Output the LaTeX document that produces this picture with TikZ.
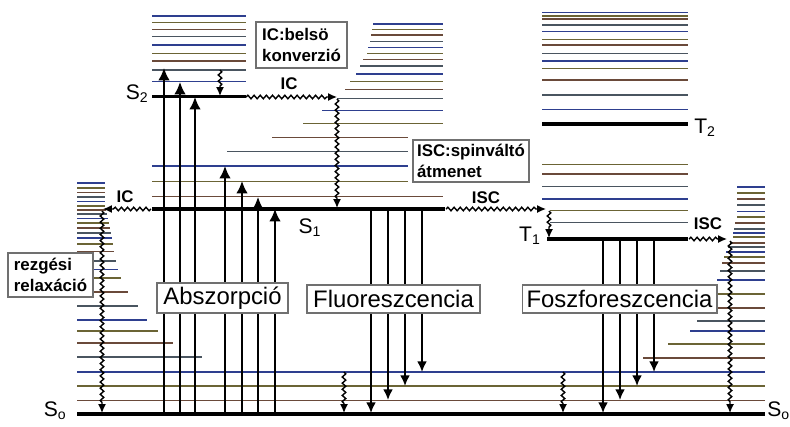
\documentclass[tikz,border=0pt]{standalone}
\usepackage{fontspec}
\setmainfont{Liberation Sans}
\usetikzlibrary{arrows.meta, decorations.pathmorphing}
\definecolor{vib0}{HTML}{4A5560}
\definecolor{vib1}{HTML}{2E3F8F}
\definecolor{vib2}{HTML}{6B6435}
\definecolor{vib3}{HTML}{6A4A3A}
\definecolor{boxGray}{HTML}{707070}

\begin{document}
\begin{tikzpicture}[x=0.02cm, y=-0.02cm,
    vibline/.style={line width=0.7pt},
    elevel/.style={line width=1.9pt, black},
    absarrow/.style={-{Latex[length=7pt, width=6.5pt]}, line width=1pt},
    emarrow/.style={-{Latex[length=6pt, width=5.5pt]}, line width=1pt},
    wavearrow/.style={-{Latex[length=5pt, width=4.5pt]}, line width=0.8pt, decorate,
      decoration={snake, amplitude=1pt, segment length=3.5pt, post length=5pt}},
    notebox/.style={draw=boxGray, fill=white, line width=0.6pt, align=left, inner sep=1.5pt,
      font=\fontsize{9.6}{12}\selectfont\bfseries},
    procbox/.style={draw=boxGray, fill=white, line width=0.6pt, inner sep=1pt,
      font=\fontsize{13.6}{15}\selectfont},
    steptag/.style={font=\fontsize{9.6}{11}\selectfont\bfseries, inner sep=0pt},
    statename/.style={font=\fontsize{12}{13}\selectfont, inner sep=0pt}]
  \useasboundingbox (0,0) rectangle (790,426);

  % S2 manifold
  \foreach \y [count=\i] in {16,22.7,29.3,36.7,45,53.3,61,70,81.7} {
    \pgfmathtruncatemacro\c{mod(\i,4)}
    \draw[vibline, vib\c] (152,\y) -- (246,\y);
  }
  \draw[elevel] (152,96.5) -- (246,96.5);
  \node[statename, anchor=east] (s2) at (149,94) {S\textsubscript{2}};

  % S1 manifold
  \foreach \y/\xa/\xb [count=\i] in {24/373/443, 29.3/372/443, 35/371/443, 41.7/370/443,
      47.3/368/443, 53.3/367/443, 59.3/363/443, 66/360/443, 74/356/443, 81.7/350/443,
      89.3/345/443, 98.3/337/443, 110.7/322/443, 123.3/303/443, 137.3/272/408,
      151.7/227/408, 166/152/408, 181.7/152/408, 196.7/152/443} {
    \pgfmathtruncatemacro\c{mod(\i,4)}
    \draw[vibline, vib\c] (\xa,\y) -- (\xb,\y);
  }
  \draw[elevel] (152,209) -- (445,209);
  \node[statename] (s1) at (310,228) {S\textsubscript{1}};

  % T2 and T1 manifolds
  \foreach \y [count=\i] in {12.7,16,19,25,31.7,39.3,45,53.3,61,68.3,80,95,109.3,164.3,174,186.7,199} {
    \pgfmathtruncatemacro\c{mod(\i,4)}
    \draw[vibline, vib\c] (542,\y) -- (688,\y);
  }
  \draw[vibline, vib2] (550,210.7) -- (688,210.7);
  \draw[vibline, vib0] (550,222.7) -- (688,222.7);
  \draw[elevel, line width=2.2pt] (542,124.3) -- (688,124.3);
  \draw[elevel] (547,239) -- (688,239);
  \node[statename, anchor=west] (t2) at (694,128) {T\textsubscript{2}};
  \node[statename] (t1) at (530,236) {T\textsubscript{1}};

  % S0 manifold
  \foreach \y/\xe [count=\i] in {183/105, 188/105, 192.5/105, 197/105, 201.5/105, 206/105,
      210/106, 214/107, 218.5/108, 223/109, 228/110, 233/111, 238/112, 244/113, 251.5/114,
      261/116, 269.5/118, 278/121, 292/128, 306/138, 320/147, 331/158, 343/173, 357/202} {
    \pgfmathtruncatemacro\c{mod(\i,4)}
    \draw[vibline, vib\c] (77,\y) -- (\xe,\y);
  }
  \foreach \y/\xs [count=\i] in {187/737, 193/737, 199/737, 205/737, 211.5/737, 217/737,
      223/735, 229/734, 233/733, 237/733, 243/730, 247/728, 252/726, 257/724, 263/722,
      271/720, 280/717, 294/715, 308/712, 321/697, 331/690, 344/668, 358/643} {
    \pgfmathtruncatemacro\c{mod(\i,4)}
    \draw[vibline, vib\c] (\xs,\y) -- (765,\y);
  }
  \foreach \y [count=\i] in {372,386,400.5} {
    \pgfmathtruncatemacro\c{mod(\i,4)}
    \draw[vibline, vib\c] (77,\y) -- (765,\y);
  }
  \draw[elevel, line width=2.2pt] (77,414) -- (765,414);
  \node[statename, anchor=east] (s0) at (67,411) {S\textsubscript{o}};
  \node[statename, anchor=west] (s0r) at (767,411) {S\textsubscript{o}};

  % absorption and emission
  \foreach \x/\y in {164/68, 180/82, 195/97, 225/166, 242/181, 258/197, 275/209}
    \draw[absarrow] (\x,413) -- (\x,\y);
  \foreach \x/\y in {371/413, 388/400, 405/386, 422/372}
    \draw[emarrow] (\x,210) -- (\x,\y);
  \foreach \x/\y in {603/413, 620/400, 637/386, 654/372}
    \draw[emarrow] (\x,240) -- (\x,\y);

  % radiationless steps
  \draw[wavearrow] (246,97) -- (337,97);
  \draw[wavearrow] (337,99) -- (337,208);
  \draw[wavearrow] (151,209) -- (103,209);
  \draw[wavearrow] (102,211) -- (102,413);
  \draw[wavearrow] (446,209) -- (546,209);
  \draw[wavearrow] (689,239) -- (727,239);
  \draw[wavearrow] (730,241) -- (730,413);
  \draw[wavearrow] (220,70) -- (220,96);
  \draw[wavearrow] (549,211) -- (549,238);
  \draw[wavearrow] (344,372) -- (344,413);
  \draw[wavearrow] (563,372) -- (563,413);

  \node[steptag] (icup) at (289,84) {IC};
  \node[steptag] (icleft) at (125,197) {IC};
  \node[steptag] (iscmid) at (486,198) {ISC};
  \node[steptag] (iscright) at (708,224) {ISC};

  % labels
  \node[notebox, minimum width=1.82cm, minimum height=0.92cm] (icnote) at (301.5,45) {IC:belsö\\konverzió};
  \node[notebox, minimum width=2.32cm, minimum height=0.84cm] (iscnote) at (471,161) {ISC:spinváltó\\átmenet};
  \node[notebox, minimum width=1.7cm, minimum height=0.88cm] (relaxnote) at (50.5,275) {rezgési\\relaxáció};
  \node[procbox, minimum width=2.62cm, minimum height=0.6cm] (absorb) at (222.5,298) {Abszorpció};
  \node[procbox, minimum width=3.46cm, minimum height=0.56cm] (fluor) at (393.5,299) {Fluoreszcencia};
  \node[procbox, minimum width=3.9cm, minimum height=0.56cm] (phos) at (619.5,299) {Foszforeszcencia};
\end{tikzpicture}
\end{document}
